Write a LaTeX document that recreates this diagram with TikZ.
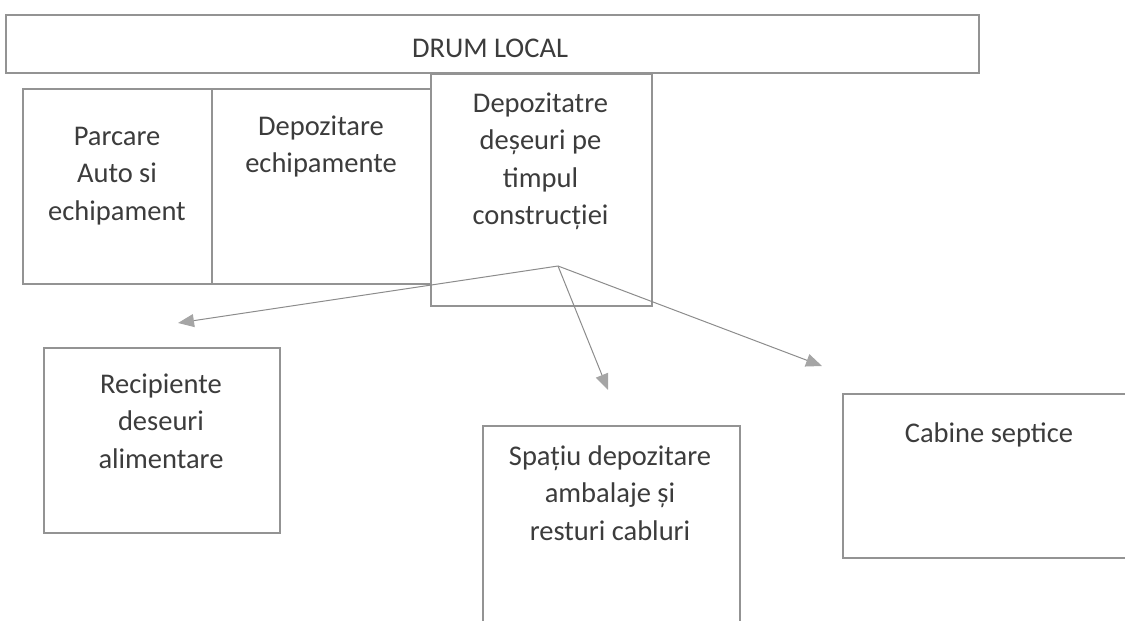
\documentclass[tikz,border=0pt]{standalone}
\usepackage{fontspec}
\setmainfont{Carlito}
\usetikzlibrary{arrows.meta}
\definecolor{linegray}{HTML}{939393}
\definecolor{arrowgray}{HTML}{8C8C8C}
\definecolor{headgray}{HTML}{A5A5A5}
\definecolor{textgray}{HTML}{3C3C3C}
\begin{document}
\begin{tikzpicture}[x=1pt,y=-1pt,
  boxshape/.style={draw=linegray, line width=1.6pt, fill=white, anchor=north west, inner sep=0pt},
  lbl/.style={align=center, text=textgray, inner sep=0pt, anchor=north, font=\fontsize{28.5}{37.5}\selectfont},
  arr/.style={draw=arrowgray, line width=1pt, -{Triangle[length=16pt,width=13pt,color=headgray,fill=headgray]}}
]
\useasboundingbox (0,0) rectangle (1125,621);
\begin{scope}
\clip (0,0) rectangle (1125,621);
% top road bar
\node[boxshape, minimum width=973pt, minimum height=58pt] (road) at (5,14) {};
\node[lbl] (roadt) at (490,31) {\strut DRUM LOCAL};
% upper boxes
\node[boxshape, minimum width=189pt, minimum height=195pt] (b1) at (22,88) {};
\node[boxshape, minimum width=219pt, minimum height=195pt] (b2) at (211,88) {};
\node[boxshape, minimum width=221pt, minimum height=232pt] (b3) at (430,73) {};
\node[lbl] (t1) at (117,118.75) {\strut Parcare\\Auto si\\echipament};
\node[lbl] (t2) at (321,108.75) {\strut Depozitare\\echipamente};
\node[lbl] (t3) at (540.5,85.75) {\strut Depozitatre\\deșeuri pe\\timpul\\construcției};
% lower boxes
\node[boxshape, minimum width=236pt, minimum height=185pt] (b4) at (43,347) {};
\node[boxshape, minimum width=257pt, minimum height=230pt] (b5) at (482,425) {};
\node[boxshape, minimum width=320pt, minimum height=164pt] (b6) at (842,393) {};
\node[lbl] (t4) at (161,366.75) {\strut Recipiente\\deseuri\\alimentare};
\node[lbl] (t5) at (610,438.75) {\strut Spațiu depozitare\\ambalaje și\\resturi cabluri};
\node[lbl] (t6) at (989,415.75) {\strut Cabine septice};
% arrows
\coordinate (apex) at (558,266);
\coordinate (tipL) at (178,323);
\coordinate (tipD) at (608,390);
\coordinate (tipR) at (822,366);
\draw[arr] (apex) -- (tipL);
\draw[arr] (apex) -- (tipD);
\draw[arr] (apex) -- (tipR);
\end{scope}
\end{tikzpicture}
\end{document}
